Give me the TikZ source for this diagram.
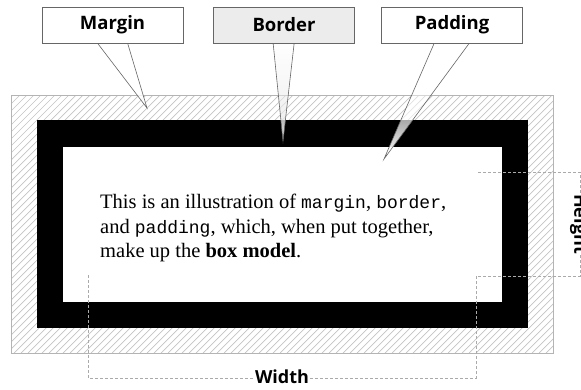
\documentclass[tikz,border=0pt]{standalone}
\usepackage{fontspec}
\setmainfont{Liberation Serif}
\setmonofont{Liberation Mono}
\newfontfamily\labfont{Open Sans}
\usetikzlibrary{fadings,calc}
\definecolor{hatchgray}{HTML}{C4C4C4}
\definecolor{framegray}{HTML}{B4B4B4}
\definecolor{linegray}{HTML}{666666}
\definecolor{dashgray}{HTML}{AAAAAA}
\definecolor{boxgray}{HTML}{ECECEC}
\newcommand{\mono}[1]{{\fontsize{18}{24.5}\selectfont\ttfamily #1}}
\tikzset{
  hatchline/.style={draw=hatchgray, line width=0.7pt},
  callbox/.style={draw=linegray, line width=0.7pt, minimum width=141pt, minimum height=36pt, inner sep=0pt, font=\labfont\bfseries\fontsize{18.5}{22}\selectfont},
  pointerside/.style={draw=linegray, line width=0.6pt},
  dimline/.style={draw=dashgray, line width=0.8pt, dash pattern=on 3pt off 2pt},
  dimlabel/.style={fill=white, inner sep=1.5pt, font=\labfont\bfseries\fontsize{18}{21}\selectfont},
  bodytext/.style={anchor=base west, inner sep=0pt, font=\fontsize{20.5}{24.5}\selectfont}
}
\begin{document}
\begin{tikzpicture}[x=1pt,y=-1pt]
\useasboundingbox (0,0) rectangle (581,389);
\fill[white] (0,0) rectangle (581,389);
% margin area with hatch
\begin{scope}
  \clip (11,95) rectangle (553,353);
  \foreach \i in {-252,-245,...,560} \draw[hatchline] (\i,353) -- ++(258,-258);
\end{scope}
\draw[framegray, line width=1pt] (11,95) rectangle (553,353);
% border
\fill[black] (37,120) rectangle (528,328);
% padding/content
\fill[white] (63,147) rectangle (502,302);
% text
\node[bodytext] (l1) at (100,208) {This is an illustration of \mono{margin}, \mono{border},};
\node[bodytext] (l2) at (100,233) {and \mono{padding}, which, when put together,};
\node[bodytext] (l3) at (100,257) {make up the \textbf{box model}.};
% dimension lines
\coordinate (h1) at (478,172);
\coordinate (h2) at (580,172);
\coordinate (h3) at (580,276);
\coordinate (h4) at (476,276);
\coordinate (w1) at (88,275);
\coordinate (w2) at (88,378);
\coordinate (w3) at (476,378);
\draw[dimline] (h1) -- (h2) -- (h3) -- (h4);
\draw[dimline] (w1) -- (w2) -- (w3) -- (h4);
\node[dimlabel, rotate=-90] (height) at (579,224) {Height};
\node[dimlabel] (width) at (282,377) {Width};
% callouts
\node[callbox, fill=white] (mbox) at (112.5,25) {Margin};
\node[callbox, fill=boxgray] (bbox) at (284,25) {Border};
\node[callbox, fill=white] (pbox) at (452,25) {Padding};
\coordinate (mtip) at (147,108);
\coordinate (btip) at (283,141);
\coordinate (ptip) at (384,159);
\coordinate (ma) at ($(mbox.south west)+(56,0)$);
\coordinate (mb) at ($(mbox.south west)+(86,0)$);
\coordinate (ba) at ($(bbox.south west)+(60,0)$);
\coordinate (bb) at ($(bbox.south west)+(81,0)$);
\coordinate (pa) at ($(pbox.south west)+(53,0)$);
\coordinate (pb) at ($(pbox.south west)+(88,0)$);
\fill[white, path fading=north] (ma) -- (mtip) -- (mb) -- cycle;
\fill[boxgray, path fading=north] (ba) -- (btip) -- (bb) -- cycle;
\fill[white, path fading=north] (pa) -- (ptip) -- (pb) -- cycle;
\draw[pointerside] (ma) -- (mtip) -- (mb);
\draw[pointerside] (ba) -- (btip) -- (bb);
\draw[pointerside] (pa) -- (ptip) -- (pb);
\end{tikzpicture}
\end{document}
